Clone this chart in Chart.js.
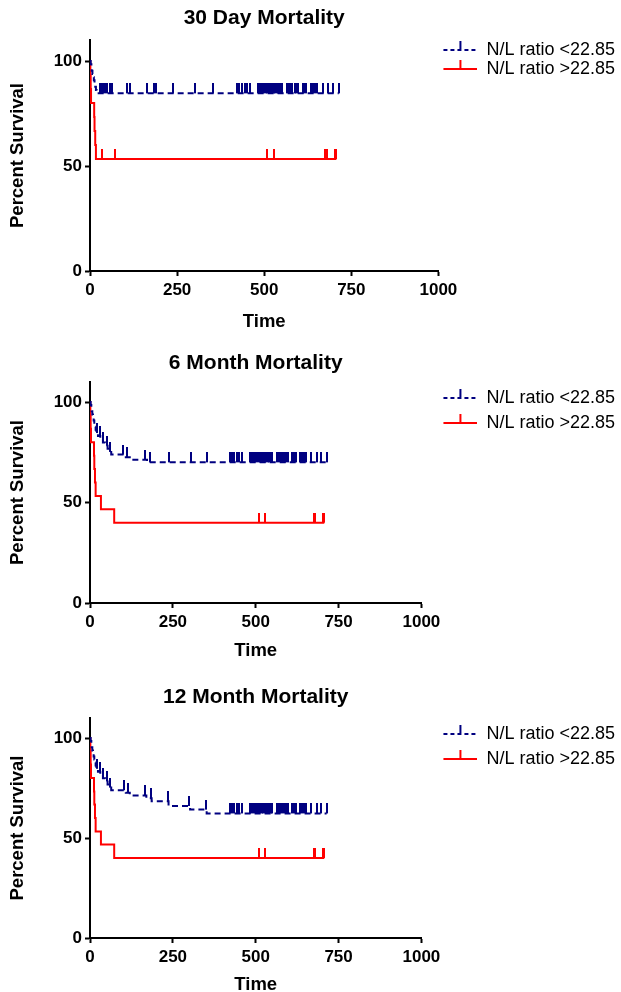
<!DOCTYPE html>
<html>
<head>
<meta charset="utf-8">
<script src="https://cdn.jsdelivr.net/npm/chart.js@4.4.1/dist/chart.umd.min.js"></script>
<style>
  html, body { margin: 0; padding: 0; background: #fff; }
  body { width: 621px; height: 992px; overflow: hidden; position: relative; }
  .panel { position: absolute; left: 0; width: 625px; }
</style>
</head>
<body>
<div class="panel" style="top:0;height:333px"><canvas id="c0"></canvas></div>
<div class="panel" style="top:345px;height:317px"><canvas id="c1"></canvas></div>
<div class="panel" style="top:679px;height:317px"><canvas id="c2"></canvas></div>
<script>
const timeTicks = [0, 250, 500, 750, 1000];
const survivalTicks = [0, 50, 100];
const titles = ['30 Day Mortality', '6 Month Mortality', '12 Month Mortality'];
const groups = ['N/L ratio <22.85', 'N/L ratio >22.85'];

// N/L ratio <22.85 : event times (days) and survival (%) after each event
const lowTime30 = [0, 2, 4, 5, 7, 9, 11, 13, 15, 17, 19];
const lowSurv30 = [100, 98.5, 96.9, 95.4, 93.8, 92.3, 90.8, 89.2, 87.7, 86.2, 84.6];
const lowTime6 = [0, 2, 4, 5, 7, 9, 11, 13, 15, 17, 19, 24, 31, 39, 46, 53, 59, 64, 108, 120, 172];
const lowSurv6 = [100, 98.5, 96.9, 95.4, 93.8, 92.3, 90.8, 89.2, 87.7, 86.2, 84.6, 83.1, 81.5, 79.9, 78.3, 76.8, 75.2, 73.9, 72.6, 71.3, 70.0];
const lowTime12 = [0, 2, 4, 5, 7, 9, 11, 13, 15, 17, 19, 24, 31, 39, 46, 53, 59, 64, 108, 120, 170, 186, 237, 302, 352];
const lowSurv12 = [100, 98.5, 96.9, 95.4, 93.8, 92.3, 90.8, 89.2, 87.7, 86.2, 84.6, 83.1, 81.5, 79.9, 78.3, 76.8, 75.2, 73.9, 72.6, 71.3, 69.9, 68.4, 66.0, 64.2, 62.3];

// N/L ratio >22.85
const highTime30 = [0, 1, 2, 3, 12, 13, 15, 17];
const highSurv30 = [100, 93.3, 86.7, 80.0, 73.3, 66.7, 60.0, 53.3];
const highTime6 = [0, 1, 2, 3, 12, 13, 15, 17, 33, 73];
const highSurv6 = [100, 93.3, 86.7, 80.0, 73.3, 66.7, 60.0, 53.3, 46.7, 40.0];

// censored times (days)
const lowCensorLate = [423, 429, 436, 445, 451, 458, 482, 487, 493, 498, 505, 509, 513, 518, 522, 527, 531, 536, 540, 545, 550, 565, 570, 575, 581, 587, 592, 597, 610, 615, 621, 635, 640, 646, 652, 668, 684, 697, 714];
const lowCensor30 = [29, 33, 38, 43, 48, 57, 62, 105, 115, 163, 184, 190, 239, 302, 354];
const lowCensor6 = [21, 30, 40, 52, 60, 100, 112, 166, 181, 237, 304, 354];
const lowCensor12 = [21, 30, 40, 52, 60, 104, 114, 165, 184, 235, 300, 350];
const highCensor30 = [35, 72, 509, 529, 675, 680, 702, 707];
const highCensor6 = [509, 529, 675, 680, 702, 707];

const navy = '#000080';
const red = '#ff0000';

Chart.defaults.font.family = '"Liberation Sans", Arial, sans-serif';
Chart.defaults.color = '#000';

function survivalAt(times, survs, t) {
  let s = survs[0];
  for (let i = 0; i < times.length; i++) {
    if (times[i] <= t) s = survs[i];
  }
  return s;
}

function curvePoints(times, survs, censor) {
  const pts = times.map((t, i) => ({ x: t, y: survs[i] }));
  pts.push({ x: Math.max(...censor), y: survs[survs.length - 1] });
  return pts;
}

function censorPoints(times, survs, censor) {
  return censor.map(t => ({ x: t, y: survivalAt(times, survs, t) }));
}

// small upward tick used for censored subjects
function tickMark(color) {
  const c = document.createElement('canvas');
  c.width = 2; c.height = 20;
  const g = c.getContext('2d');
  g.fillStyle = color;
  g.fillRect(0, 0, 2, 10);
  return c;
}

// legend symbol: line with a censor tick, shifted right by `shift`
function legendMark(color, dash, shift) {
  const c = document.createElement('canvas');
  c.width = shift + 34; c.height = 20;
  const g = c.getContext('2d');
  g.strokeStyle = color;
  g.lineWidth = 2;
  g.setLineDash(dash);
  g.beginPath(); g.moveTo(shift, 10); g.lineTo(shift + 34, 10); g.stroke();
  g.setLineDash([]);
  g.beginPath(); g.moveTo(shift + 17, 1); g.lineTo(shift + 17, 10); g.stroke();
  return c;
}

const panels = [
  { lowT: lowTime30, lowS: lowSurv30, lowC: lowCensor30.concat(lowCensorLate),
    highT: highTime30, highS: highSurv30, highC: highCensor30,
    titleGap: 9.4, xHeight: 62, legendPad: 1, shift: 4 },
  { lowT: lowTime6, lowS: lowSurv6, lowC: lowCensor6.concat(lowCensorLate),
    highT: highTime6, highS: highSurv6, highC: highCensor6,
    titleGap: 6.4, xHeight: 59, legendPad: 7, shift: 15 },
  { lowT: lowTime12, lowS: lowSurv12, lowC: lowCensor12.concat(lowCensorLate),
    highT: highTime6, highS: highSurv6, highC: highCensor6,
    titleGap: 8.4, xHeight: 58, legendPad: 7, shift: 15 }
];

const tickFont = { size: 17, weight: 'bold' };
const axisTitleFont = { size: 18.5, weight: 'bold' };

panels.forEach((p, i) => {
  new Chart(document.getElementById('c' + i), {
    type: 'line',
    data: {
      datasets: [
        { label: groups[0], data: curvePoints(p.lowT, p.lowS, p.lowC),
          borderColor: navy, borderWidth: 2, borderDash: [6, 4], stepped: 'before',
          pointRadius: 0, pointStyle: legendMark(navy, [4, 3], p.shift) },
        { label: groups[1], data: curvePoints(p.highT, p.highS, p.highC),
          borderColor: red, borderWidth: 2, stepped: 'before',
          pointRadius: 0, pointStyle: legendMark(red, [], p.shift) },
        { label: 'low censored', data: censorPoints(p.lowT, p.lowS, p.lowC),
          showLine: false, pointRadius: 3, pointStyle: tickMark(navy) },
        { label: 'high censored', data: censorPoints(p.highT, p.highS, p.highC),
          showLine: false, pointRadius: 3, pointStyle: tickMark(red) }
      ]
    },
    options: {
      animation: false,
      responsive: true,
      maintainAspectRatio: false,
      events: [],
      layout: { padding: 0 },
      plugins: {
        title: { display: true, text: titles[i], fullSize: false,
          font: { size: 21, weight: 'bold' }, padding: { top: 5.4, bottom: p.titleGap } },
        legend: { position: 'right', align: 'start', fullSize: false, maxWidth: 400,
          labels: { usePointStyle: true, pointStyleWidth: p.shift + 34, padding: p.legendPad,
            font: { size: 18 }, filter: item => item.datasetIndex < 2 } },
        tooltip: { enabled: false }
      },
      scales: {
        x: {
          type: 'linear', min: 0, max: 1000,
          afterBuildTicks: s => { s.ticks = timeTicks.map(v => ({ value: v })); },
          afterFit: s => { s.height = p.xHeight; },
          ticks: { font: tickFont, padding: 4, autoSkip: false, maxRotation: 0, callback: v => String(v) },
          grid: { drawOnChartArea: false, tickLength: 5, tickColor: '#000', tickWidth: 2 },
          border: { color: '#000', width: 2 },
          title: { display: true, text: 'Time', font: axisTitleFont, padding: { top: 0, bottom: 0 } }
        },
        y: {
          min: 0, max: 110,
          afterBuildTicks: s => { s.ticks = survivalTicks.map(v => ({ value: v })); },
          afterFit: s => { s.width = 90; },
          ticks: { font: tickFont, padding: 3, callback: v => String(v) },
          grid: { drawOnChartArea: false, tickLength: 5, tickColor: '#000', tickWidth: 2 },
          border: { color: '#000', width: 2 },
          title: { display: true, text: 'Percent Survival', font: axisTitleFont, padding: { top: 7, bottom: 0 } }
        }
      }
    }
  });
});
</script>
</body>
</html>
